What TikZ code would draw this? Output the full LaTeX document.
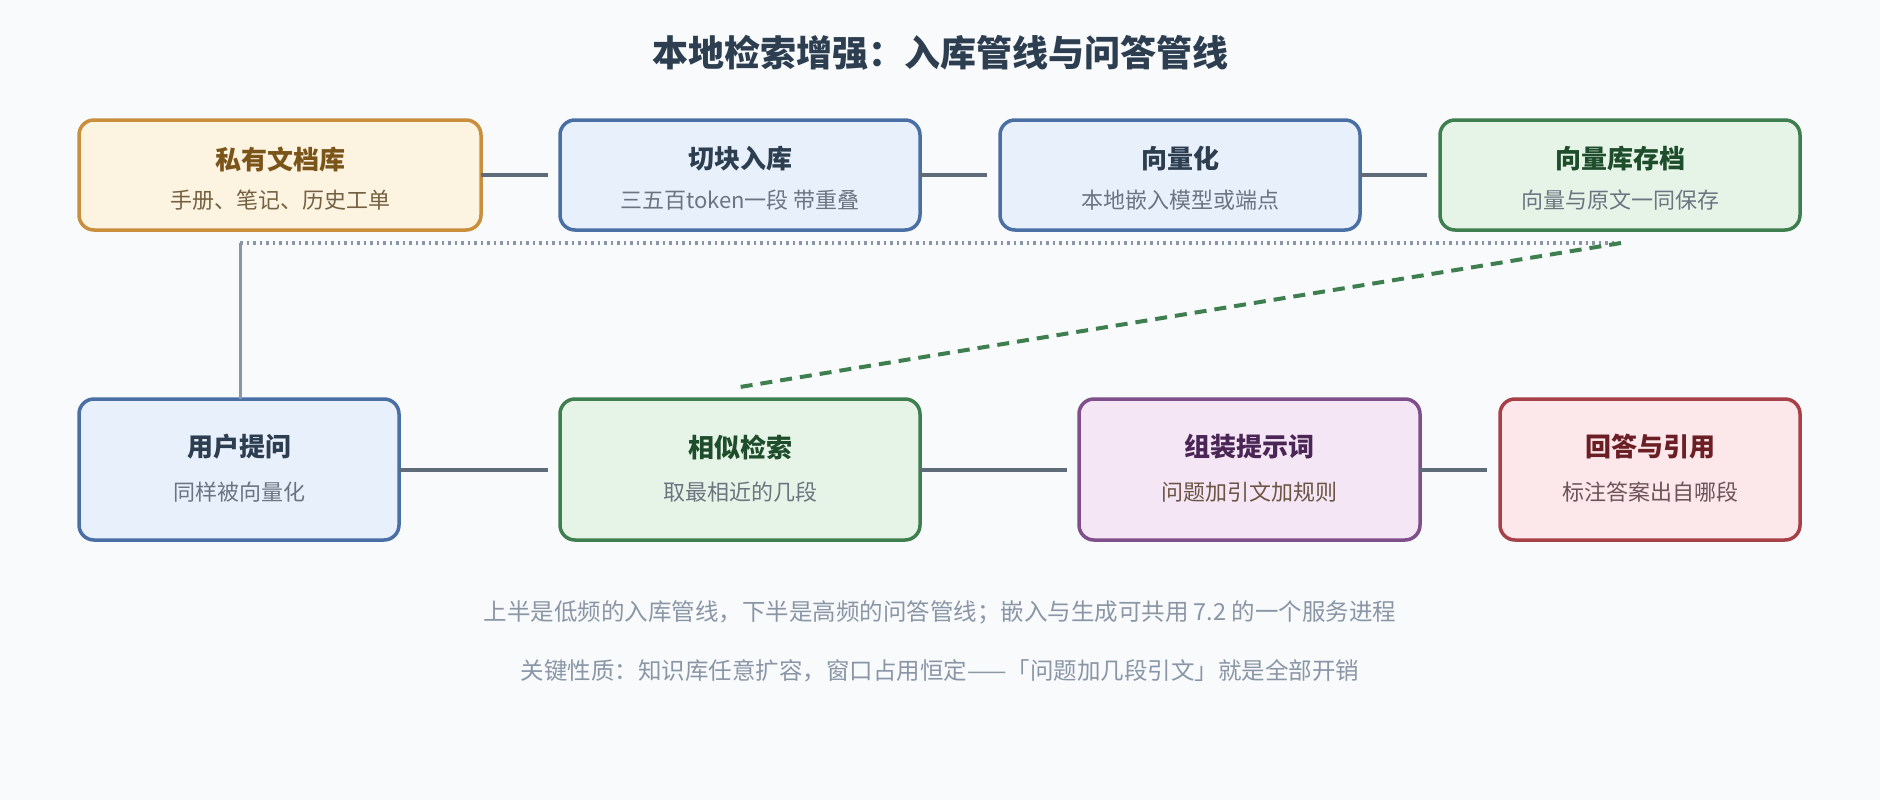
\documentclass[tikz,border=0pt]{standalone}
\usepackage{fontspec}
\setmainfont{Noto Sans CJK SC}
\begin{document}
\begin{tikzpicture}[x=1pt,y=-1pt,
  box/.style={draw,line width=3.5pt,rounded corners=15pt},
  ttl/.style={font=\fontsize{26}{30}\selectfont\bfseries},
  sub/.style={font=\fontsize{22}{26}\selectfont, text=subc},
  conn/.style={draw=connc,line width=3.5pt},
]
\definecolor{bg}{HTML}{F8FAFC}
\definecolor{connc}{HTML}{5F6B78}
\definecolor{subc}{HTML}{6B7480}
\definecolor{noteC}{HTML}{8A96A6}
\definecolor{oF}{HTML}{FDF3E1}\definecolor{oD}{HTML}{C98F3C}\definecolor{oT}{HTML}{7A5418}
\definecolor{bF}{HTML}{E8F0FC}\definecolor{bD}{HTML}{4A6FA5}\definecolor{bT}{HTML}{2C3E50}
\definecolor{gF}{HTML}{E6F4E8}\definecolor{gD}{HTML}{3F7F4F}\definecolor{gT}{HTML}{1E4D2B}
\definecolor{pF}{HTML}{F4E6F4}\definecolor{pD}{HTML}{7E4F8A}\definecolor{pT}{HTML}{4A2556}
\definecolor{rF}{HTML}{FCE8EA}\definecolor{rD}{HTML}{A84048}\definecolor{rT}{HTML}{6B1F24}
\fill[bg] (0,0) rectangle (1880,800);
\useasboundingbox (0,0) rectangle (1880,800);
\node[font=\fontsize{36}{42}\selectfont\bfseries, text=bT] (title) at (940,53) {本地检索增强：入库管线与问答管线};
% row 1
\draw[box,draw=oD,fill=oF] (79,120) rectangle (481,230); \node (b1) at (280,175) {};
\draw[box,draw=bD,fill=bF] (560,120) rectangle (920,230); \node (b2) at (740,175) {};
\draw[box,draw=bD,fill=bF] (1000,120) rectangle (1360,230); \node (b3) at (1180,175) {};
\draw[box,draw=gD,fill=gF] (1440,120) rectangle (1800,230); \node (b4) at (1620,175) {};
\node[ttl,text=oT] (t1) at (280,159) {私有文档库};
\node[sub,text=oT!60!subc] (s1) at (280,200) {手册、笔记、历史工单};
\node[ttl,text=bT] (t2) at (740,159) {切块入库};
\node[sub] (s2) at (740,200) {三五百token一段 带重叠};
\node[ttl,text=bT] (t3) at (1180,159) {向量化};
\node[sub] (s3) at (1180,200) {本地嵌入模型或端点};
\node[ttl,text=gT] (t4) at (1620,159) {向量库存档};
\node[sub] (s4) at (1620,200) {向量与原文一同保存};
% row 2
\draw[box,draw=bD,fill=bF] (79,399) rectangle (399,540);
\draw[box,draw=gD,fill=gF] (560,399) rectangle (920,540);
\draw[box,draw=pD,fill=pF] (1079,399) rectangle (1420,540);
\draw[box,draw=rD,fill=rF] (1500,399) rectangle (1800,540);
\node[ttl,text=bT] (u1) at (239,447) {用户提问};
\node[sub] (v1) at (239,492) {同样被向量化};
\node[ttl,text=gT] (u2) at (740,447) {相似检索};
\node[sub] (v2) at (740,492) {取最相近的几段};
\node[ttl,text=pT] (u3) at (1249,447) {组装提示词};
\node[sub,text=pT!30!oT!70!subc] (v3) at (1249,492) {问题加引文加规则};
\node[ttl,text=rT] (u4) at (1650,447) {回答与引用};
\node[sub,text=rT!40!subc] (v4) at (1650,492) {标注答案出自哪段};
% connectors
\coordinate (a1) at (481,175); \coordinate (a2) at (548,175);
\coordinate (a3) at (920,175); \coordinate (a4) at (987,175);
\coordinate (a5) at (1360,175); \coordinate (a6) at (1427,175);
\coordinate (c1) at (399,470); \coordinate (c2) at (548,470);
\coordinate (c3) at (920,470); \coordinate (c4) at (1067,470);
\coordinate (c5) at (1420,470); \coordinate (c6) at (1487,470);
\draw[conn] (a1)--(a2); \draw[conn] (a3)--(a4); \draw[conn] (a5)--(a6);
\draw[conn] (c1)--(c2); \draw[conn] (c3)--(c4); \draw[conn] (c5)--(c6);
\coordinate (d1) at (240,243); \coordinate (d2) at (1619,243);
\coordinate (q1) at (240,399);
\draw[noteC,line width=3.5pt,dash pattern=on 2.5pt off 4pt] (d1)--(d2);
\draw[noteC,line width=3pt] (d1)--(q1);
\coordinate (g1) at (1621,243); \coordinate (g2) at (740,387);
\draw[gD,line width=4pt,dash pattern=on 12pt off 8pt] (g1)--(g2);
% notes
\node[font=\fontsize{23.5}{28}\selectfont,text=noteC] (n1) at (940,612) {上半是低频的入库管线，下半是高频的问答管线；嵌入与生成可共用 7.2 的一个服务进程};
\node[font=\fontsize{23.5}{28}\selectfont,text=noteC] (n2) at (940,671) {关键性质：知识库任意扩容，窗口占用恒定——「问题加几段引文」就是全部开销};
\end{tikzpicture}
\end{document}
